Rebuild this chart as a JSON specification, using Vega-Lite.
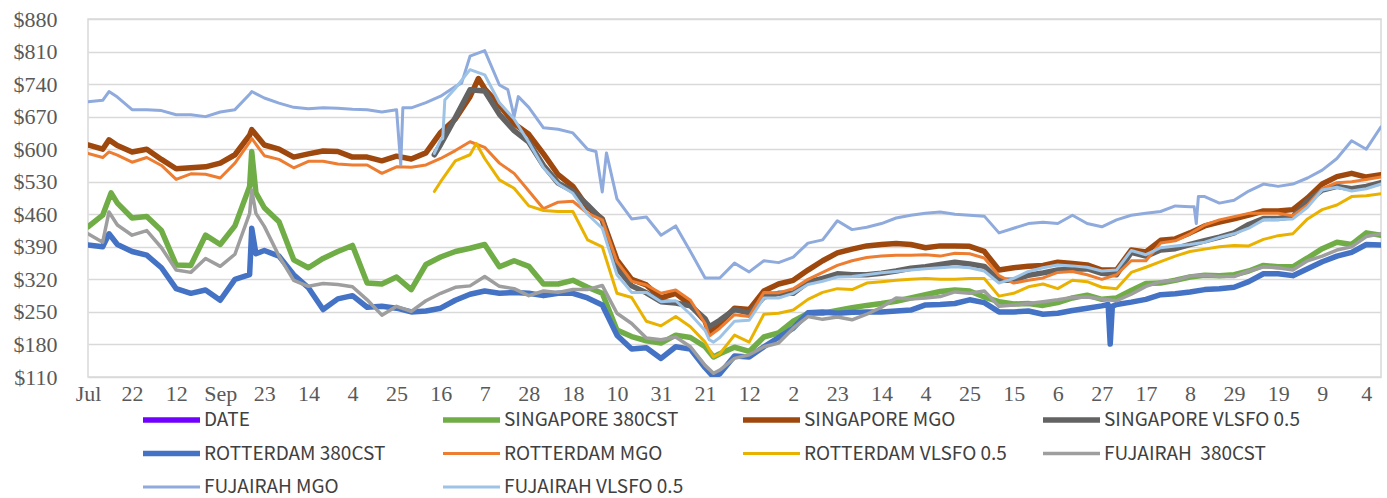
{
  "$schema": "https://vega.github.io/schema/vega-lite/v6.json",
  "width": 1293,
  "height": 358,
  "autosize": {"type": "none"},
  "padding": {"left": 88, "top": 19, "right": 6, "bottom": 121},
  "background": "#ffffff",
  "config": {
    "view": {"stroke": "#D9D9D9", "strokeWidth": 1.5},
    "axis": {"labelFont": "Liberation Serif", "labelFontSize": 22, "labelColor": "#595959", "ticks": false, "domain": false, "title": null}
  },
  "data": {
    "values": [
      {"date":"2019-12-16","SINGAPORE 380CST":368,"SINGAPORE MGO":636,"SINGAPORE VLSFO 0.5":610,"ROTTERDAM 380CST":258,"ROTTERDAM MGO":580,"ROTTERDAM VLSFO 0.5":530,"FUJAIRAH  380CST":290,"FUJAIRAH MGO":714,"FUJAIRAH VLSFO 0.5":620},
      {"date":"2019-07-01","SINGAPORE 380CST":433,"SINGAPORE MGO":609,"ROTTERDAM 380CST":394,"ROTTERDAM MGO":591,"FUJAIRAH  380CST":418,"FUJAIRAH MGO":702},
      {"date":"2019-07-08","SINGAPORE 380CST":458,"SINGAPORE MGO":600,"ROTTERDAM 380CST":390,"ROTTERDAM MGO":582,"FUJAIRAH  380CST":400,"FUJAIRAH MGO":705},
      {"date":"2019-07-11","SINGAPORE MGO":620,"ROTTERDAM 380CST":418,"ROTTERDAM MGO":594,"FUJAIRAH  380CST":465,"FUJAIRAH MGO":724},
      {"date":"2019-07-12","SINGAPORE 380CST":506},
      {"date":"2019-07-15","SINGAPORE 380CST":484,"SINGAPORE MGO":608,"ROTTERDAM 380CST":395,"ROTTERDAM MGO":587,"FUJAIRAH  380CST":437,"FUJAIRAH MGO":712},
      {"date":"2019-07-22","SINGAPORE 380CST":452,"SINGAPORE MGO":594,"ROTTERDAM 380CST":380,"ROTTERDAM MGO":572,"FUJAIRAH  380CST":415,"FUJAIRAH MGO":685},
      {"date":"2019-07-29","SINGAPORE 380CST":455,"SINGAPORE MGO":600,"ROTTERDAM 380CST":372,"ROTTERDAM MGO":582,"FUJAIRAH  380CST":425,"FUJAIRAH MGO":685},
      {"date":"2019-08-05","SINGAPORE 380CST":425,"SINGAPORE MGO":578,"ROTTERDAM 380CST":345,"ROTTERDAM MGO":565,"FUJAIRAH  380CST":388,"FUJAIRAH MGO":683},
      {"date":"2019-08-12","SINGAPORE 380CST":351,"SINGAPORE MGO":558,"ROTTERDAM 380CST":300,"ROTTERDAM MGO":535,"FUJAIRAH  380CST":340,"FUJAIRAH MGO":674},
      {"date":"2019-08-19","SINGAPORE 380CST":350,"SINGAPORE MGO":560,"ROTTERDAM 380CST":290,"ROTTERDAM MGO":547,"FUJAIRAH  380CST":335,"FUJAIRAH MGO":674},
      {"date":"2019-08-26","SINGAPORE 380CST":415,"SINGAPORE MGO":562,"ROTTERDAM 380CST":297,"ROTTERDAM MGO":546,"FUJAIRAH  380CST":365,"FUJAIRAH MGO":670},
      {"date":"2019-09-02","SINGAPORE 380CST":395,"SINGAPORE MGO":570,"ROTTERDAM 380CST":275,"ROTTERDAM MGO":538,"FUJAIRAH  380CST":348,"FUJAIRAH MGO":680},
      {"date":"2019-09-09","SINGAPORE 380CST":435,"SINGAPORE MGO":588,"ROTTERDAM 380CST":320,"ROTTERDAM MGO":570,"FUJAIRAH  380CST":374,"FUJAIRAH MGO":685},
      {"date":"2019-09-16","SINGAPORE 380CST":520,"SINGAPORE MGO":630,"ROTTERDAM 380CST":330,"ROTTERDAM MGO":615,"FUJAIRAH  380CST":462,"FUJAIRAH MGO":718},
      {"date":"2019-09-17","SINGAPORE 380CST":595,"SINGAPORE MGO":642,"ROTTERDAM 380CST":430,"ROTTERDAM MGO":623,"FUJAIRAH  380CST":512,"FUJAIRAH MGO":724},
      {"date":"2019-09-19","SINGAPORE 380CST":506,"ROTTERDAM 380CST":375,"FUJAIRAH  380CST":462},
      {"date":"2019-09-23","SINGAPORE 380CST":474,"SINGAPORE MGO":609,"ROTTERDAM 380CST":382,"ROTTERDAM MGO":586,"FUJAIRAH  380CST":434,"FUJAIRAH MGO":710},
      {"date":"2019-09-30","SINGAPORE 380CST":444,"SINGAPORE MGO":600,"ROTTERDAM 380CST":370,"ROTTERDAM MGO":578,"FUJAIRAH  380CST":370,"FUJAIRAH MGO":699},
      {"date":"2019-10-07","SINGAPORE 380CST":362,"SINGAPORE MGO":583,"ROTTERDAM 380CST":330,"ROTTERDAM MGO":560,"FUJAIRAH  380CST":318,"FUJAIRAH MGO":690},
      {"date":"2019-10-14","SINGAPORE 380CST":345,"SINGAPORE MGO":590,"ROTTERDAM 380CST":302,"ROTTERDAM MGO":574,"FUJAIRAH  380CST":305,"FUJAIRAH MGO":687},
      {"date":"2019-10-21","SINGAPORE 380CST":365,"SINGAPORE MGO":596,"ROTTERDAM 380CST":255,"ROTTERDAM MGO":574,"FUJAIRAH  380CST":311,"FUJAIRAH MGO":689},
      {"date":"2019-10-28","SINGAPORE 380CST":380,"SINGAPORE MGO":595,"ROTTERDAM 380CST":278,"ROTTERDAM MGO":568,"FUJAIRAH  380CST":309,"FUJAIRAH MGO":688},
      {"date":"2019-11-04","SINGAPORE 380CST":393,"SINGAPORE MGO":583,"ROTTERDAM 380CST":285,"ROTTERDAM MGO":566,"FUJAIRAH  380CST":304,"FUJAIRAH MGO":686},
      {"date":"2019-11-11","SINGAPORE 380CST":312,"SINGAPORE MGO":583,"ROTTERDAM 380CST":260,"ROTTERDAM MGO":566,"FUJAIRAH  380CST":276,"FUJAIRAH MGO":685},
      {"date":"2019-11-18","SINGAPORE 380CST":310,"SINGAPORE MGO":575,"ROTTERDAM 380CST":262,"ROTTERDAM MGO":548,"FUJAIRAH  380CST":243,"FUJAIRAH MGO":680},
      {"date":"2019-11-25","SINGAPORE 380CST":325,"SINGAPORE MGO":585,"ROTTERDAM 380CST":258,"ROTTERDAM MGO":562,"FUJAIRAH  380CST":262,"FUJAIRAH MGO":685},
      {"date":"2019-11-27","FUJAIRAH MGO":566},
      {"date":"2019-11-28","FUJAIRAH MGO":689},
      {"date":"2019-12-02","SINGAPORE 380CST":298,"SINGAPORE MGO":579,"ROTTERDAM 380CST":250,"ROTTERDAM MGO":561,"FUJAIRAH  380CST":251,"FUJAIRAH MGO":689},
      {"date":"2019-12-09","SINGAPORE 380CST":352,"SINGAPORE MGO":592,"ROTTERDAM 380CST":252,"ROTTERDAM MGO":566,"FUJAIRAH  380CST":274,"FUJAIRAH MGO":700},
      {"date":"2019-12-13","SINGAPORE VLSFO 0.5":588,"ROTTERDAM VLSFO 0.5":509,"FUJAIRAH VLSFO 0.5":591},
      {"date":"2019-12-17","FUJAIRAH VLSFO 0.5":623},
      {"date":"2019-12-18","FUJAIRAH VLSFO 0.5":706},
      {"date":"2019-12-23","SINGAPORE 380CST":380,"SINGAPORE MGO":665,"SINGAPORE VLSFO 0.5":668,"ROTTERDAM 380CST":275,"ROTTERDAM MGO":597,"ROTTERDAM VLSFO 0.5":575,"FUJAIRAH  380CST":303,"FUJAIRAH MGO":735,"FUJAIRAH VLSFO 0.5":731},
      {"date":"2019-12-26","FUJAIRAH MGO":742},
      {"date":"2019-12-30","SINGAPORE 380CST":387,"SINGAPORE MGO":713,"SINGAPORE VLSFO 0.5":728,"ROTTERDAM 380CST":288,"ROTTERDAM MGO":616,"ROTTERDAM VLSFO 0.5":588,"FUJAIRAH  380CST":306,"FUJAIRAH MGO":800,"FUJAIRAH VLSFO 0.5":771},
      {"date":"2020-01-02","ROTTERDAM VLSFO 0.5":612},
      {"date":"2020-01-03","SINGAPORE MGO":752},
      {"date":"2020-01-06","SINGAPORE 380CST":395,"SINGAPORE MGO":730,"SINGAPORE VLSFO 0.5":725,"ROTTERDAM 380CST":295,"ROTTERDAM MGO":604,"ROTTERDAM VLSFO 0.5":580,"FUJAIRAH  380CST":326,"FUJAIRAH MGO":812,"FUJAIRAH VLSFO 0.5":760},
      {"date":"2020-01-13","SINGAPORE 380CST":347,"SINGAPORE MGO":695,"SINGAPORE VLSFO 0.5":675,"ROTTERDAM 380CST":290,"ROTTERDAM MGO":570,"ROTTERDAM VLSFO 0.5":534,"FUJAIRAH  380CST":305,"FUJAIRAH MGO":738,"FUJAIRAH VLSFO 0.5":700},
      {"date":"2020-01-17","FUJAIRAH MGO":728},
      {"date":"2020-01-20","SINGAPORE 380CST":360,"SINGAPORE MGO":655,"SINGAPORE VLSFO 0.5":640,"ROTTERDAM 380CST":292,"ROTTERDAM MGO":548,"ROTTERDAM VLSFO 0.5":516,"FUJAIRAH  380CST":300,"FUJAIRAH MGO":670,"FUJAIRAH VLSFO 0.5":665},
      {"date":"2020-01-22","FUJAIRAH MGO":713},
      {"date":"2020-01-27","SINGAPORE 380CST":348,"SINGAPORE MGO":632,"SINGAPORE VLSFO 0.5":615,"ROTTERDAM 380CST":290,"ROTTERDAM MGO":510,"ROTTERDAM VLSFO 0.5":478,"FUJAIRAH  380CST":285,"FUJAIRAH MGO":690,"FUJAIRAH VLSFO 0.5":615},
      {"date":"2020-02-03","SINGAPORE 380CST":310,"SINGAPORE MGO":590,"SINGAPORE VLSFO 0.5":565,"ROTTERDAM 380CST":285,"ROTTERDAM MGO":472,"ROTTERDAM VLSFO 0.5":468,"FUJAIRAH  380CST":295,"FUJAIRAH MGO":646,"FUJAIRAH VLSFO 0.5":560},
      {"date":"2020-02-10","SINGAPORE 380CST":310,"SINGAPORE MGO":545,"SINGAPORE VLSFO 0.5":527,"ROTTERDAM 380CST":290,"ROTTERDAM MGO":486,"ROTTERDAM VLSFO 0.5":466,"FUJAIRAH  380CST":292,"FUJAIRAH MGO":643,"FUJAIRAH VLSFO 0.5":525},
      {"date":"2020-02-17","SINGAPORE 380CST":318,"SINGAPORE MGO":520,"SINGAPORE VLSFO 0.5":510,"ROTTERDAM 380CST":290,"ROTTERDAM MGO":488,"ROTTERDAM VLSFO 0.5":466,"FUJAIRAH  380CST":298,"FUJAIRAH MGO":635,"FUJAIRAH VLSFO 0.5":505},
      {"date":"2020-02-24","SINGAPORE 380CST":303,"SINGAPORE MGO":475,"SINGAPORE VLSFO 0.5":480,"ROTTERDAM 380CST":280,"ROTTERDAM MGO":462,"ROTTERDAM VLSFO 0.5":405,"FUJAIRAH  380CST":298,"FUJAIRAH MGO":600,"FUJAIRAH VLSFO 0.5":460},
      {"date":"2020-02-28","FUJAIRAH MGO":595},
      {"date":"2020-03-02","SINGAPORE 380CST":290,"SINGAPORE MGO":450,"SINGAPORE VLSFO 0.5":448,"ROTTERDAM 380CST":265,"ROTTERDAM MGO":448,"ROTTERDAM VLSFO 0.5":390,"FUJAIRAH  380CST":307,"FUJAIRAH MGO":508,"FUJAIRAH VLSFO 0.5":430},
      {"date":"2020-03-04","FUJAIRAH MGO":592},
      {"date":"2020-03-09","SINGAPORE 380CST":211,"SINGAPORE MGO":362,"SINGAPORE VLSFO 0.5":345,"ROTTERDAM 380CST":200,"ROTTERDAM MGO":358,"ROTTERDAM VLSFO 0.5":290,"FUJAIRAH  380CST":247,"FUJAIRAH MGO":493,"FUJAIRAH VLSFO 0.5":330},
      {"date":"2020-03-16","SINGAPORE 380CST":197,"SINGAPORE MGO":320,"SINGAPORE VLSFO 0.5":306,"ROTTERDAM 380CST":170,"ROTTERDAM MGO":316,"ROTTERDAM VLSFO 0.5":281,"FUJAIRAH  380CST":225,"FUJAIRAH MGO":450,"FUJAIRAH VLSFO 0.5":292},
      {"date":"2020-03-23","SINGAPORE 380CST":188,"SINGAPORE MGO":308,"SINGAPORE VLSFO 0.5":291,"ROTTERDAM 380CST":173,"ROTTERDAM MGO":308,"ROTTERDAM VLSFO 0.5":230,"FUJAIRAH  380CST":194,"FUJAIRAH MGO":454,"FUJAIRAH VLSFO 0.5":292},
      {"date":"2020-03-30","SINGAPORE 380CST":183,"SINGAPORE MGO":280,"SINGAPORE VLSFO 0.5":272,"ROTTERDAM 380CST":150,"ROTTERDAM MGO":290,"ROTTERDAM VLSFO 0.5":220,"FUJAIRAH  380CST":190,"FUJAIRAH MGO":415,"FUJAIRAH VLSFO 0.5":272},
      {"date":"2020-04-06","SINGAPORE 380CST":200,"SINGAPORE MGO":290,"SINGAPORE VLSFO 0.5":269,"ROTTERDAM 380CST":175,"ROTTERDAM MGO":297,"ROTTERDAM VLSFO 0.5":240,"FUJAIRAH  380CST":196,"FUJAIRAH MGO":435,"FUJAIRAH VLSFO 0.5":274},
      {"date":"2020-04-13","SINGAPORE 380CST":195,"SINGAPORE MGO":265,"SINGAPORE VLSFO 0.5":263,"ROTTERDAM 380CST":170,"ROTTERDAM MGO":275,"ROTTERDAM VLSFO 0.5":218,"FUJAIRAH  380CST":175,"FUJAIRAH MGO":380,"FUJAIRAH VLSFO 0.5":245},
      {"date":"2020-04-20","SINGAPORE 380CST":175,"SINGAPORE MGO":230,"SINGAPORE VLSFO 0.5":235,"ROTTERDAM 380CST":130,"ROTTERDAM MGO":225,"ROTTERDAM VLSFO 0.5":185,"FUJAIRAH  380CST":135,"FUJAIRAH MGO":323,"FUJAIRAH VLSFO 0.5":210},
      {"date":"2020-04-22","SINGAPORE MGO":205,"SINGAPORE VLSFO 0.5":218,"ROTTERDAM MGO":198,"FUJAIRAH VLSFO 0.5":190},
      {"date":"2020-04-24","SINGAPORE 380CST":153,"ROTTERDAM 380CST":110,"ROTTERDAM VLSFO 0.5":153,"FUJAIRAH  380CST":118,"FUJAIRAH VLSFO 0.5":185},
      {"date":"2020-04-27","SINGAPORE 380CST":160,"SINGAPORE MGO":225,"SINGAPORE VLSFO 0.5":232,"ROTTERDAM 380CST":117,"ROTTERDAM MGO":215,"ROTTERDAM VLSFO 0.5":160,"FUJAIRAH  380CST":125,"FUJAIRAH MGO":323,"FUJAIRAH VLSFO 0.5":195},
      {"date":"2020-05-04","SINGAPORE 380CST":174,"SINGAPORE MGO":258,"SINGAPORE VLSFO 0.5":255,"ROTTERDAM 380CST":155,"ROTTERDAM MGO":244,"ROTTERDAM VLSFO 0.5":200,"FUJAIRAH  380CST":150,"FUJAIRAH MGO":355,"FUJAIRAH VLSFO 0.5":230},
      {"date":"2020-05-11","SINGAPORE 380CST":165,"SINGAPORE MGO":255,"SINGAPORE VLSFO 0.5":248,"ROTTERDAM 380CST":153,"ROTTERDAM MGO":240,"ROTTERDAM VLSFO 0.5":185,"FUJAIRAH  380CST":158,"FUJAIRAH MGO":336,"FUJAIRAH VLSFO 0.5":232},
      {"date":"2020-05-18","SINGAPORE 380CST":196,"SINGAPORE MGO":295,"SINGAPORE VLSFO 0.5":282,"ROTTERDAM 380CST":175,"ROTTERDAM MGO":292,"ROTTERDAM VLSFO 0.5":245,"FUJAIRAH  380CST":175,"FUJAIRAH MGO":360,"FUJAIRAH VLSFO 0.5":280},
      {"date":"2020-05-25","SINGAPORE 380CST":205,"SINGAPORE MGO":310,"SINGAPORE VLSFO 0.5":290,"ROTTERDAM 380CST":195,"ROTTERDAM MGO":291,"ROTTERDAM VLSFO 0.5":247,"FUJAIRAH  380CST":183,"FUJAIRAH MGO":356,"FUJAIRAH VLSFO 0.5":280},
      {"date":"2020-06-01","SINGAPORE 380CST":230,"SINGAPORE MGO":318,"SINGAPORE VLSFO 0.5":290,"ROTTERDAM 380CST":215,"ROTTERDAM MGO":300,"ROTTERDAM VLSFO 0.5":254,"FUJAIRAH  380CST":215,"FUJAIRAH MGO":368,"FUJAIRAH VLSFO 0.5":290},
      {"date":"2020-06-08","SINGAPORE 380CST":247,"SINGAPORE MGO":340,"SINGAPORE VLSFO 0.5":314,"ROTTERDAM 380CST":248,"ROTTERDAM MGO":320,"ROTTERDAM VLSFO 0.5":277,"FUJAIRAH  380CST":240,"FUJAIRAH MGO":398,"FUJAIRAH VLSFO 0.5":309},
      {"date":"2020-06-15","SINGAPORE 380CST":247,"SINGAPORE MGO":360,"SINGAPORE VLSFO 0.5":322,"ROTTERDAM 380CST":250,"ROTTERDAM MGO":335,"ROTTERDAM VLSFO 0.5":292,"FUJAIRAH  380CST":234,"FUJAIRAH MGO":405,"FUJAIRAH VLSFO 0.5":316},
      {"date":"2020-06-22","SINGAPORE 380CST":253,"SINGAPORE MGO":377,"SINGAPORE VLSFO 0.5":332,"ROTTERDAM 380CST":247,"ROTTERDAM MGO":350,"ROTTERDAM VLSFO 0.5":300,"FUJAIRAH  380CST":239,"FUJAIRAH MGO":446,"FUJAIRAH VLSFO 0.5":325},
      {"date":"2020-06-29","SINGAPORE 380CST":259,"SINGAPORE MGO":385,"SINGAPORE VLSFO 0.5":330,"ROTTERDAM 380CST":249,"ROTTERDAM MGO":360,"ROTTERDAM VLSFO 0.5":298,"FUJAIRAH  380CST":233,"FUJAIRAH MGO":427,"FUJAIRAH VLSFO 0.5":326},
      {"date":"2020-07-06","SINGAPORE 380CST":264,"SINGAPORE MGO":392,"SINGAPORE VLSFO 0.5":330,"ROTTERDAM 380CST":250,"ROTTERDAM MGO":367,"ROTTERDAM VLSFO 0.5":312,"FUJAIRAH  380CST":245,"FUJAIRAH MGO":432,"FUJAIRAH VLSFO 0.5":330},
      {"date":"2020-07-13","SINGAPORE 380CST":268,"SINGAPORE MGO":395,"SINGAPORE VLSFO 0.5":333,"ROTTERDAM 380CST":250,"ROTTERDAM MGO":370,"ROTTERDAM VLSFO 0.5":315,"FUJAIRAH  380CST":260,"FUJAIRAH MGO":440,"FUJAIRAH VLSFO 0.5":334},
      {"date":"2020-07-20","SINGAPORE 380CST":273,"SINGAPORE MGO":397,"SINGAPORE VLSFO 0.5":338,"ROTTERDAM 380CST":252,"ROTTERDAM MGO":372,"ROTTERDAM VLSFO 0.5":318,"FUJAIRAH  380CST":280,"FUJAIRAH MGO":452,"FUJAIRAH VLSFO 0.5":337},
      {"date":"2020-07-27","SINGAPORE 380CST":280,"SINGAPORE MGO":395,"SINGAPORE VLSFO 0.5":344,"ROTTERDAM 380CST":254,"ROTTERDAM MGO":372,"ROTTERDAM VLSFO 0.5":320,"FUJAIRAH  380CST":278,"FUJAIRAH MGO":458,"FUJAIRAH VLSFO 0.5":340},
      {"date":"2020-08-03","SINGAPORE 380CST":287,"SINGAPORE MGO":388,"SINGAPORE VLSFO 0.5":347,"ROTTERDAM 380CST":265,"ROTTERDAM MGO":373,"ROTTERDAM VLSFO 0.5":322,"FUJAIRAH  380CST":280,"FUJAIRAH MGO":462,"FUJAIRAH VLSFO 0.5":343},
      {"date":"2020-08-10","SINGAPORE 380CST":294,"SINGAPORE MGO":392,"SINGAPORE VLSFO 0.5":352,"ROTTERDAM 380CST":266,"ROTTERDAM MGO":370,"ROTTERDAM VLSFO 0.5":320,"FUJAIRAH  380CST":283,"FUJAIRAH MGO":465,"FUJAIRAH VLSFO 0.5":345},
      {"date":"2020-08-17","SINGAPORE 380CST":297,"SINGAPORE MGO":392,"SINGAPORE VLSFO 0.5":357,"ROTTERDAM 380CST":268,"ROTTERDAM MGO":376,"ROTTERDAM VLSFO 0.5":320,"FUJAIRAH  380CST":293,"FUJAIRAH MGO":460,"FUJAIRAH VLSFO 0.5":347},
      {"date":"2020-08-24","SINGAPORE 380CST":295,"SINGAPORE MGO":391,"SINGAPORE VLSFO 0.5":353,"ROTTERDAM 380CST":276,"ROTTERDAM MGO":375,"ROTTERDAM VLSFO 0.5":322,"FUJAIRAH  380CST":290,"FUJAIRAH MGO":458,"FUJAIRAH VLSFO 0.5":345},
      {"date":"2020-08-31","SINGAPORE 380CST":282,"SINGAPORE MGO":380,"SINGAPORE VLSFO 0.5":348,"ROTTERDAM 380CST":270,"ROTTERDAM MGO":366,"ROTTERDAM VLSFO 0.5":322,"FUJAIRAH  380CST":295,"FUJAIRAH MGO":456,"FUJAIRAH VLSFO 0.5":338},
      {"date":"2020-09-07","SINGAPORE 380CST":272,"SINGAPORE MGO":340,"SINGAPORE VLSFO 0.5":318,"ROTTERDAM 380CST":250,"ROTTERDAM MGO":328,"ROTTERDAM VLSFO 0.5":284,"FUJAIRAH  380CST":262,"FUJAIRAH MGO":420,"FUJAIRAH VLSFO 0.5":312},
      {"date":"2020-09-14","SINGAPORE 380CST":267,"SINGAPORE MGO":345,"SINGAPORE VLSFO 0.5":318,"ROTTERDAM 380CST":250,"ROTTERDAM MGO":312,"ROTTERDAM VLSFO 0.5":290,"FUJAIRAH  380CST":265,"FUJAIRAH MGO":430,"FUJAIRAH VLSFO 0.5":322},
      {"date":"2020-09-21","SINGAPORE 380CST":268,"SINGAPORE MGO":348,"SINGAPORE VLSFO 0.5":329,"ROTTERDAM 380CST":252,"ROTTERDAM MGO":318,"ROTTERDAM VLSFO 0.5":304,"FUJAIRAH  380CST":268,"FUJAIRAH MGO":440,"FUJAIRAH VLSFO 0.5":337},
      {"date":"2020-09-28","SINGAPORE 380CST":264,"SINGAPORE MGO":350,"SINGAPORE VLSFO 0.5":334,"ROTTERDAM 380CST":245,"ROTTERDAM MGO":323,"ROTTERDAM VLSFO 0.5":310,"FUJAIRAH  380CST":272,"FUJAIRAH MGO":443,"FUJAIRAH VLSFO 0.5":345},
      {"date":"2020-10-05","SINGAPORE 380CST":270,"SINGAPORE MGO":357,"SINGAPORE VLSFO 0.5":340,"ROTTERDAM 380CST":247,"ROTTERDAM MGO":335,"ROTTERDAM VLSFO 0.5":300,"FUJAIRAH  380CST":276,"FUJAIRAH MGO":440,"FUJAIRAH VLSFO 0.5":351},
      {"date":"2020-10-12","SINGAPORE 380CST":280,"SINGAPORE MGO":354,"SINGAPORE VLSFO 0.5":342,"ROTTERDAM 380CST":253,"ROTTERDAM MGO":337,"ROTTERDAM VLSFO 0.5":318,"FUJAIRAH  380CST":281,"FUJAIRAH MGO":458,"FUJAIRAH VLSFO 0.5":349},
      {"date":"2020-10-19","SINGAPORE 380CST":286,"SINGAPORE MGO":351,"SINGAPORE VLSFO 0.5":343,"ROTTERDAM 380CST":258,"ROTTERDAM MGO":330,"ROTTERDAM VLSFO 0.5":315,"FUJAIRAH  380CST":282,"FUJAIRAH MGO":440,"FUJAIRAH VLSFO 0.5":346},
      {"date":"2020-10-26","SINGAPORE 380CST":277,"SINGAPORE MGO":340,"SINGAPORE VLSFO 0.5":333,"ROTTERDAM 380CST":263,"ROTTERDAM MGO":320,"ROTTERDAM VLSFO 0.5":303,"FUJAIRAH  380CST":278,"FUJAIRAH MGO":433,"FUJAIRAH VLSFO 0.5":338},
      {"date":"2020-10-29","ROTTERDAM 380CST":266},
      {"date":"2020-10-30","ROTTERDAM 380CST":181},
      {"date":"2020-10-31","ROTTERDAM 380CST":262},
      {"date":"2020-11-02","SINGAPORE 380CST":280,"SINGAPORE MGO":340,"SINGAPORE VLSFO 0.5":330,"ROTTERDAM 380CST":266,"ROTTERDAM MGO":330,"ROTTERDAM VLSFO 0.5":300,"FUJAIRAH  380CST":274,"FUJAIRAH MGO":448,"FUJAIRAH VLSFO 0.5":340},
      {"date":"2020-11-09","SINGAPORE 380CST":296,"SINGAPORE MGO":383,"SINGAPORE VLSFO 0.5":378,"ROTTERDAM 380CST":271,"ROTTERDAM MGO":360,"ROTTERDAM VLSFO 0.5":335,"FUJAIRAH  380CST":288,"FUJAIRAH MGO":458,"FUJAIRAH VLSFO 0.5":382},
      {"date":"2020-11-16","SINGAPORE 380CST":311,"SINGAPORE MGO":379,"SINGAPORE VLSFO 0.5":370,"ROTTERDAM 380CST":277,"ROTTERDAM MGO":360,"ROTTERDAM VLSFO 0.5":346,"FUJAIRAH  380CST":305,"FUJAIRAH MGO":462,"FUJAIRAH VLSFO 0.5":373},
      {"date":"2020-11-23","SINGAPORE 380CST":312,"SINGAPORE MGO":404,"SINGAPORE VLSFO 0.5":383,"ROTTERDAM 380CST":287,"ROTTERDAM MGO":398,"ROTTERDAM VLSFO 0.5":358,"FUJAIRAH  380CST":315,"FUJAIRAH MGO":466,"FUJAIRAH VLSFO 0.5":388},
      {"date":"2020-11-30","SINGAPORE 380CST":318,"SINGAPORE MGO":407,"SINGAPORE VLSFO 0.5":386,"ROTTERDAM 380CST":289,"ROTTERDAM MGO":403,"ROTTERDAM VLSFO 0.5":370,"FUJAIRAH  380CST":318,"FUJAIRAH MGO":478,"FUJAIRAH VLSFO 0.5":392},
      {"date":"2020-12-07","SINGAPORE 380CST":325,"SINGAPORE MGO":420,"SINGAPORE VLSFO 0.5":395,"ROTTERDAM 380CST":293,"ROTTERDAM MGO":418,"ROTTERDAM VLSFO 0.5":380,"FUJAIRAH  380CST":327,"FUJAIRAH MGO":476,"FUJAIRAH VLSFO 0.5":395},
      {"date":"2020-12-09","FUJAIRAH MGO":476},
      {"date":"2020-12-10","FUJAIRAH MGO":440},
      {"date":"2020-12-11","FUJAIRAH MGO":498},
      {"date":"2020-12-14","SINGAPORE 380CST":329,"SINGAPORE MGO":435,"SINGAPORE VLSFO 0.5":403,"ROTTERDAM 380CST":298,"ROTTERDAM MGO":437,"ROTTERDAM VLSFO 0.5":385,"FUJAIRAH  380CST":329,"FUJAIRAH MGO":498,"FUJAIRAH VLSFO 0.5":400},
      {"date":"2020-12-21","SINGAPORE 380CST":328,"SINGAPORE MGO":443,"SINGAPORE VLSFO 0.5":411,"ROTTERDAM 380CST":300,"ROTTERDAM MGO":448,"ROTTERDAM VLSFO 0.5":390,"FUJAIRAH  380CST":326,"FUJAIRAH MGO":484,"FUJAIRAH VLSFO 0.5":410},
      {"date":"2020-12-28","SINGAPORE 380CST":330,"SINGAPORE MGO":450,"SINGAPORE VLSFO 0.5":420,"ROTTERDAM 380CST":303,"ROTTERDAM MGO":455,"ROTTERDAM VLSFO 0.5":393,"FUJAIRAH  380CST":326,"FUJAIRAH MGO":490,"FUJAIRAH VLSFO 0.5":418},
      {"date":"2021-01-04","SINGAPORE 380CST":338,"SINGAPORE MGO":458,"SINGAPORE VLSFO 0.5":438,"ROTTERDAM 380CST":315,"ROTTERDAM MGO":462,"ROTTERDAM VLSFO 0.5":392,"FUJAIRAH  380CST":338,"FUJAIRAH MGO":510,"FUJAIRAH VLSFO 0.5":430},
      {"date":"2021-01-11","SINGAPORE 380CST":350,"SINGAPORE MGO":467,"SINGAPORE VLSFO 0.5":451,"ROTTERDAM 380CST":332,"ROTTERDAM MGO":462,"ROTTERDAM VLSFO 0.5":406,"FUJAIRAH  380CST":347,"FUJAIRAH MGO":525,"FUJAIRAH VLSFO 0.5":448},
      {"date":"2021-01-18","SINGAPORE 380CST":347,"SINGAPORE MGO":467,"SINGAPORE VLSFO 0.5":451,"ROTTERDAM 380CST":332,"ROTTERDAM MGO":462,"ROTTERDAM VLSFO 0.5":414,"FUJAIRAH  380CST":345,"FUJAIRAH MGO":520,"FUJAIRAH VLSFO 0.5":449},
      {"date":"2021-01-25","SINGAPORE 380CST":347,"SINGAPORE MGO":470,"SINGAPORE VLSFO 0.5":455,"ROTTERDAM 380CST":328,"ROTTERDAM MGO":457,"ROTTERDAM VLSFO 0.5":418,"FUJAIRAH  380CST":340,"FUJAIRAH MGO":525,"FUJAIRAH VLSFO 0.5":450},
      {"date":"2021-02-01","SINGAPORE 380CST":366,"SINGAPORE MGO":495,"SINGAPORE VLSFO 0.5":488,"ROTTERDAM 380CST":343,"ROTTERDAM MGO":480,"ROTTERDAM VLSFO 0.5":450,"FUJAIRAH  380CST":360,"FUJAIRAH MGO":538,"FUJAIRAH VLSFO 0.5":475},
      {"date":"2021-02-08","SINGAPORE 380CST":386,"SINGAPORE MGO":525,"SINGAPORE VLSFO 0.5":512,"ROTTERDAM 380CST":358,"ROTTERDAM MGO":515,"ROTTERDAM VLSFO 0.5":470,"FUJAIRAH  380CST":370,"FUJAIRAH MGO":555,"FUJAIRAH VLSFO 0.5":512},
      {"date":"2021-02-15","SINGAPORE 380CST":400,"SINGAPORE MGO":541,"SINGAPORE VLSFO 0.5":520,"ROTTERDAM 380CST":370,"ROTTERDAM MGO":528,"ROTTERDAM VLSFO 0.5":480,"FUJAIRAH  380CST":383,"FUJAIRAH MGO":580,"FUJAIRAH VLSFO 0.5":518},
      {"date":"2021-02-22","SINGAPORE 380CST":395,"SINGAPORE MGO":548,"SINGAPORE VLSFO 0.5":515,"ROTTERDAM 380CST":378,"ROTTERDAM MGO":530,"ROTTERDAM VLSFO 0.5":498,"FUJAIRAH  380CST":390,"FUJAIRAH MGO":618,"FUJAIRAH VLSFO 0.5":510},
      {"date":"2021-03-01","SINGAPORE 380CST":420,"SINGAPORE MGO":540,"SINGAPORE VLSFO 0.5":520,"ROTTERDAM 380CST":395,"ROTTERDAM MGO":535,"ROTTERDAM VLSFO 0.5":500,"FUJAIRAH  380CST":412,"FUJAIRAH MGO":600,"FUJAIRAH VLSFO 0.5":515},
      {"date":"2021-03-08","SINGAPORE 380CST":415,"SINGAPORE MGO":545,"SINGAPORE VLSFO 0.5":528,"ROTTERDAM 380CST":394,"ROTTERDAM MGO":540,"ROTTERDAM VLSFO 0.5":504,"FUJAIRAH  380CST":418,"FUJAIRAH MGO":648,"FUJAIRAH VLSFO 0.5":525}
    ]
  },
  "transform": [
    {"fold": ["SINGAPORE 380CST", "SINGAPORE MGO", "SINGAPORE VLSFO 0\\.5", "ROTTERDAM 380CST", "ROTTERDAM MGO", "ROTTERDAM VLSFO 0\\.5", "FUJAIRAH  380CST", "FUJAIRAH MGO", "FUJAIRAH VLSFO 0\\.5"], "as": ["series", "price"]},
    {"filter": "isValid(datum.price)"}
  ],
  "mark": {"type": "line", "strokeCap": "round", "strokeJoin": "round", "clip": true, "invalid": "filter"},
  "encoding": {
    "x": {
      "field": "date", "type": "temporal",
      "scale": {"domain": [1561939200000, 1615161600000], "nice": false},
      "axis": {
        "values": [1561939200000,1563753600000,1565568000000,1567382400000,1569196800000,1571011200000,1572825600000,1574640000000,1576454400000,1578268800000,1580083200000,1581897600000,1583712000000,1585526400000,1587340800000,1589155200000,1590969600000,1592784000000,1594598400000,1596412800000,1598227200000,1600041600000,1601856000000,1603670400000,1605484800000,1607299200000,1609113600000,1610928000000,1612742400000,1614556800000],
        "labelExpr": "['Jul','22','12','Sep','23','14','4','25','16','7','28','18','10','31','21','12','2','23','14','4','25','15','6','27','17','8','29','19','9','4'][round((datum.value - 1561939200000) / 1814400000)]",
        "grid": false, "labelPadding": 6, "labelOverlap": false, "labelFlush": false
      }
    },
    "y": {
      "field": "price", "type": "quantitative",
      "scale": {"domain": [110, 880], "nice": false, "zero": false},
      "axis": {"values": [110,180,250,320,390,460,530,600,670,740,810,880], "format": "$d", "grid": true, "gridColor": "#D9D9D9", "gridWidth": 1.5, "labelPadding": 31}
    },
    "color": {
      "field": "series", "type": "nominal",
      "scale": {
        "domain": ["DATE", "SINGAPORE 380CST", "SINGAPORE MGO", "SINGAPORE VLSFO 0.5", "ROTTERDAM 380CST", "ROTTERDAM MGO", "ROTTERDAM VLSFO 0.5", "FUJAIRAH  380CST", "FUJAIRAH MGO", "FUJAIRAH VLSFO 0.5"],
        "range": ["#7000FF", "#70AD47", "#9E480E", "#636363", "#4472C4", "#ED7D31", "#EAB200", "#9E9E9E", "#8FAADC", "#9DC3E6"]
      },
      "legend": {
        "title": null, "orient": "none", "legendX": 52, "legendY": 391,
        "direction": "horizontal", "columns": 4, "gridAlign": "all",
        "columnPadding": 33, "rowPadding": 13.5, "clipHeight": 20,
        "symbolType": "stroke", "symbolSize": 3249,
        "labelFont": "Noto Sans CJK SC", "labelFontSize": 19, "labelColor": "#404040", "labelLimit": 400, "labelOffset": 1,
        "labelExpr": "replace(datum.label, '  ', '\u00a0 ')"
      }
    },
    "strokeWidth": {
      "field": "series", "type": "nominal",
      "scale": {
        "type": "ordinal",
        "domain": ["DATE", "SINGAPORE 380CST", "SINGAPORE MGO", "SINGAPORE VLSFO 0.5", "ROTTERDAM 380CST", "ROTTERDAM MGO", "ROTTERDAM VLSFO 0.5", "FUJAIRAH  380CST", "FUJAIRAH MGO", "FUJAIRAH VLSFO 0.5"],
        "range": [5.5, 5.5, 5.5, 5.5, 5.5, 3, 3, 3.5, 3, 3]
      },
      "legend": {
        "title": null, "orient": "none", "legendX": 52, "legendY": 391,
        "direction": "horizontal", "columns": 4, "gridAlign": "all",
        "columnPadding": 33, "rowPadding": 13.5, "clipHeight": 20,
        "symbolType": "stroke", "symbolSize": 3249,
        "labelFont": "Noto Sans CJK SC", "labelFontSize": 19, "labelColor": "#404040", "labelLimit": 400, "labelOffset": 1,
        "labelExpr": "replace(datum.label, '  ', '\u00a0 ')"
      }
    }
  }
}
